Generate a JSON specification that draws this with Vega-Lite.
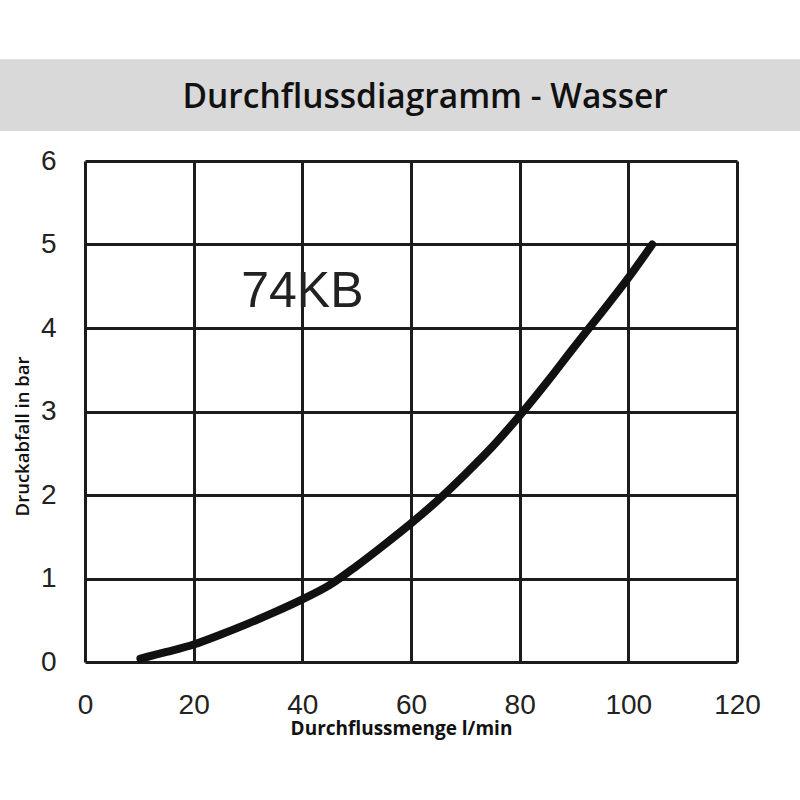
{
  "$schema": "https://vega.github.io/schema/vega-lite/v6.json",
  "width": 652,
  "height": 501,
  "autosize": "none",
  "padding": {"left": 85, "top": 161, "right": 63, "bottom": 138},
  "background": "white",
  "config": {
    "view": {"stroke": null},
    "axis": {
      "grid": true,
      "gridColor": "#1c1c1c",
      "gridWidth": 3,
      "gridOpacity": 1,
      "domain": false,
      "ticks": false,
      "labelFont": "Liberation Sans",
      "labelFontSize": 28,
      "labelColor": "#222222",
      "labelOverlap": false,
      "labelFlush": false,
      "titleFont": "Open Sans",
      "titleFontSize": 18.5,
      "titleFontWeight": 600,
      "titleColor": "#111111"
    }
  },
  "data": {
    "values": [
      {"flow": 10.2, "dp": 0.04},
      {"flow": 15, "dp": 0.12},
      {"flow": 20, "dp": 0.21},
      {"flow": 25, "dp": 0.33},
      {"flow": 30, "dp": 0.46},
      {"flow": 35, "dp": 0.6},
      {"flow": 40, "dp": 0.75},
      {"flow": 45, "dp": 0.92},
      {"flow": 50, "dp": 1.15},
      {"flow": 55, "dp": 1.4},
      {"flow": 60, "dp": 1.66},
      {"flow": 65, "dp": 1.94},
      {"flow": 70, "dp": 2.25},
      {"flow": 75, "dp": 2.58},
      {"flow": 80, "dp": 2.95},
      {"flow": 85, "dp": 3.35},
      {"flow": 90, "dp": 3.77},
      {"flow": 95, "dp": 4.18},
      {"flow": 100, "dp": 4.6},
      {"flow": 104.4, "dp": 5.0}
    ]
  },
  "layer": [
    {
      "data": {"values": [{"band": "title"}]},
      "mark": {"type": "rect", "fill": "#d9d9d9", "clip": false},
      "encoding": {
        "x": {"datum": -15.7, "type": "quantitative", "title": "Durchflussmenge l/min"},
        "x2": {"datum": 131.6},
        "y": {"datum": 6.36, "type": "quantitative", "title": "Druckabfall in bar"},
        "y2": {"datum": 7.22}
      }
    },
    {
      "data": {"values": [{"label": "Durchflussdiagramm - Wasser"}]},
      "mark": {"type": "text", "font": "Open Sans", "fontSize": 33.5, "fontWeight": 600, "color": "#111111", "align": "center", "baseline": "alphabetic", "clip": false},
      "encoding": {
        "x": {"datum": 62.6, "type": "quantitative", "title": "Durchflussmenge l/min"},
        "y": {"datum": 6.635, "type": "quantitative", "title": "Druckabfall in bar"},
        "text": {"field": "label", "type": "nominal"}
      }
    },
    {
      "mark": {"type": "line", "color": "#111111", "strokeWidth": 8, "strokeCap": "round", "strokeJoin": "round", "interpolate": "monotone"},
      "encoding": {
        "x": {
          "field": "flow",
          "type": "quantitative",
          "title": "Durchflussmenge l/min",
          "scale": {"domain": [0, 120], "nice": false, "zero": false},
          "axis": {
            "values": [0, 20, 40, 60, 80, 100, 120],
            "format": "d",
            "labelPadding": 29,
            "titleX": 316,
            "titleY": 72,
            "titleBaseline": "alphabetic",
            "titleFontSize": 19,
            "titleFontWeight": 700
          }
        },
        "y": {
          "field": "dp",
          "type": "quantitative",
          "title": "Druckabfall in bar",
          "scale": {"domain": [0, 6], "nice": false},
          "axis": {
            "values": [0, 1, 2, 3, 4, 5, 6],
            "format": "d",
            "labelPadding": 29,
            "titleX": -57,
            "titleY": 275,
            "titleAngle": -90,
            "titleBaseline": "alphabetic",
            "titleAlign": "center"
          }
        }
      }
    },
    {
      "data": {"values": [{"label": "74KB"}]},
      "mark": {"type": "text", "font": "Liberation Sans", "fontSize": 50, "color": "#222222", "align": "center", "baseline": "alphabetic"},
      "encoding": {
        "x": {"datum": 40, "type": "quantitative", "title": "Durchflussmenge l/min"},
        "y": {"datum": 4.25, "type": "quantitative", "title": "Druckabfall in bar"},
        "text": {"field": "label", "type": "nominal"}
      }
    }
  ]
}
